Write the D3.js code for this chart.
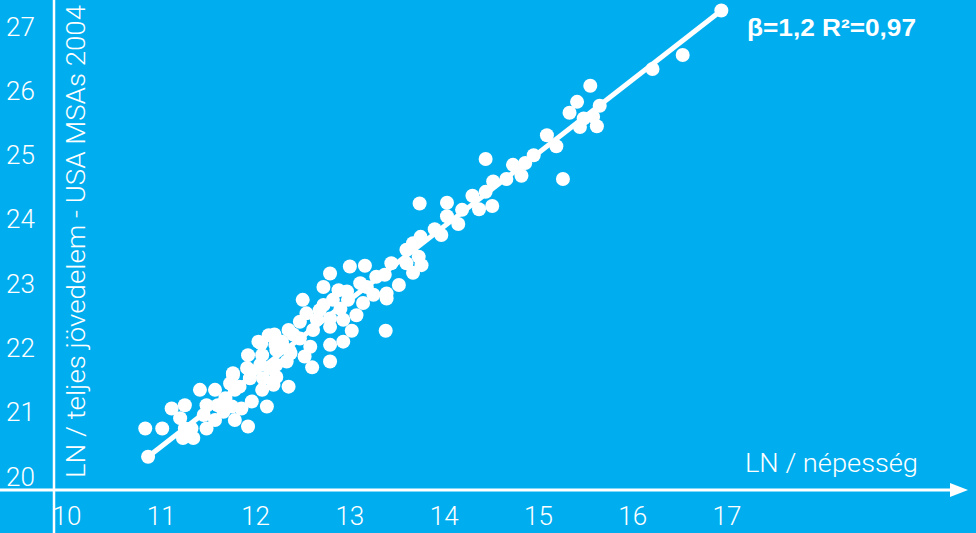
<!DOCTYPE html>
<html>
<head>
<meta charset="utf-8">
<script src="https://cdn.jsdelivr.net/npm/d3@7"></script>
<style>
html,body{margin:0;padding:0;background:#00AEEF;}
svg{display:block;}
</style>
</head>
<body>
<svg id="chart" width="976" height="533"></svg>
<script>
// ln(population) of each MSA
const lnPop = [16.94,16.53,16.21,15.55,15.41,15.65,15.33,15.48,15.58,15.44,15.62,15.09,15.19,14.95,14.86,14.82,15.26,
  14.44,14.73,14.66,14.52,14.44,14.30,14.51,14.37,14.19,14.03,13.74,14.03,14.15,13.90,13.97,13.75,13.67,13.60,13.73,13.76,
  13.60,13.67,13.44,13.16,13.37,13.28,13.52,13.39,13.18,13.25,13.14,12.79,13.00,13.11,12.72,12.88,12.97,13.39,12.50,12.72,
  12.82,12.98,13.07,12.54,12.47,12.65,12.79,12.93,12.61,12.79,13.02,13.38,12.35,12.14,12.03,12.28,12.47,12.58,12.79,12.93,
  11.92,12.07,12.22,12.37,12.52,12.79,12.60,11.91,12.05,12.22,12.33,11.76,11.94,12.08,12.22,12.19,12.35,11.83,10.86,10.83,
  11.01,11.11,11.25,11.20,11.25,11.23,11.34,11.32,11.41,11.57,11.48,11.45,11.48,11.57,11.60,11.68,11.73,11.76,12.06,11.78,
  11.75,11.66,11.78,11.92,11.85,11.96,12.12,12.07,12.15,12.29,12.21,11.94,12.20,12.40,12.68,12.90,12.36];
// ln(total income) of each MSA
const lnIncome = [27.24,26.55,26.33,26.07,25.82,25.76,25.65,25.56,25.59,25.43,25.44,25.30,25.13,24.99,24.87,24.67,24.62,
  24.93,24.84,24.62,24.58,24.42,24.36,24.20,24.15,24.14,24.25,24.24,24.04,23.92,23.84,23.75,23.72,23.62,23.52,23.41,23.28,
  23.31,23.16,23.31,23.27,23.13,23.10,22.97,22.84,22.94,22.82,22.69,23.15,23.26,23.00,22.94,22.89,22.87,22.76,22.74,22.66,
  22.74,22.74,22.50,22.53,22.40,22.43,22.45,22.43,22.27,22.32,22.26,22.26,22.27,22.19,22.09,22.09,22.14,22.01,22.04,22.09,
  21.88,21.88,21.96,21.91,21.86,21.78,21.69,21.68,21.73,21.73,21.78,21.60,21.52,21.52,21.54,21.42,21.39,21.39,20.30,20.74,
  20.74,21.05,21.10,20.90,20.74,20.59,20.59,20.74,21.34,21.34,21.10,20.95,20.74,20.87,21.10,21.21,21.44,21.57,22.06,21.34,
  21.08,21.00,20.87,20.77,21.05,21.16,21.08,21.34,21.68,22.01,22.04,21.64,22.20,22.20,22.58,22.60,21.95];
// fitted regression line end points
const fitX = [10.86, 16.94];
const fitY = [20.30, 27.24];
const xTicks = [10,11,12,13,14,15,16,17];
const yTicks = [20,21,22,23,24,25,26,27];
const xTitle = "LN / népesség";
const yTitle = "LN / teljes jövedelem - USA MSAs 2004";
const statText = "β=1,2 R²=0,97";

const svg = d3.select("#chart");
const W = 976, H = 533;
const bg = "#00AEEF";
svg.append("rect").attr("width",W).attr("height",H).attr("fill",bg);

const x = d3.scaleLinear().domain([10,17]).range([67,727]);
const y = d3.scaleLinear().domain([20,27]).range([476,26]);
const font = "Roboto, 'Liberation Sans', sans-serif";

// axes lines
const axisY = 490, axisX = 54;
svg.append("line").attr("x1",0).attr("x2",954).attr("y1",axisY).attr("y2",axisY)
  .attr("stroke","#fff").attr("stroke-width",3);
svg.append("path").attr("d",d3.line()([[950,axisY-7],[968,axisY],[950,axisY+7]]) + "Z").attr("fill","#fff");
svg.append("line").attr("x1",axisX).attr("x2",axisX).attr("y1",0).attr("y2",H)
  .attr("stroke","#fff").attr("stroke-width",2.5);

// x tick labels
svg.append("g").selectAll("text").data(xTicks).join("text")
  .attr("x",d=>x(d)).attr("y",525).attr("text-anchor","middle")
  .attr("fill","#fff").attr("font-family",font).attr("font-weight",300).attr("font-size",26)
  .text(d=>d);
// y tick labels
svg.append("g").selectAll("text").data(yTicks).join("text")
  .attr("x",6).attr("y",d=>y(d)+9.5).attr("text-anchor","start")
  .attr("fill","#fff").attr("font-family",font).attr("font-weight",300).attr("font-size",26)
  .text(d=>d);

// axis titles
svg.append("text").attr("transform","translate(85,478) rotate(-90)")
  .attr("fill","#fff").attr("font-family",font).attr("font-weight",300).attr("font-size",26)
  .attr("textLength",473).attr("lengthAdjust","spacingAndGlyphs")
  .text(yTitle);
svg.append("text").attr("x",745).attr("y",472)
  .attr("fill","#fff").attr("font-family",font).attr("font-weight",300).attr("font-size",26)
  .attr("textLength",173).attr("lengthAdjust","spacingAndGlyphs")
  .text(xTitle);

// fit line
svg.append("line")
  .attr("x1",x(fitX[0])).attr("y1",y(fitY[0])).attr("x2",x(fitX[1])).attr("y2",y(fitY[1]))
  .attr("stroke","#fff").attr("stroke-width",5);

// points
const pts = lnPop.map((d,i)=>[d,lnIncome[i]]);
svg.append("g").selectAll("circle").data(pts).join("circle")
  .attr("cx",d=>x(d[0])).attr("cy",d=>y(d[1])).attr("r",7).attr("fill","#fff");

// stat text
svg.append("text").attr("x",747).attr("y",36)
  .attr("fill","#fff").attr("font-family","'Liberation Sans', Arial, sans-serif").attr("font-weight","bold").attr("font-size",24)
  .attr("textLength",169).attr("lengthAdjust","spacingAndGlyphs")
  .text(statText);
</script>
</body>
</html>
